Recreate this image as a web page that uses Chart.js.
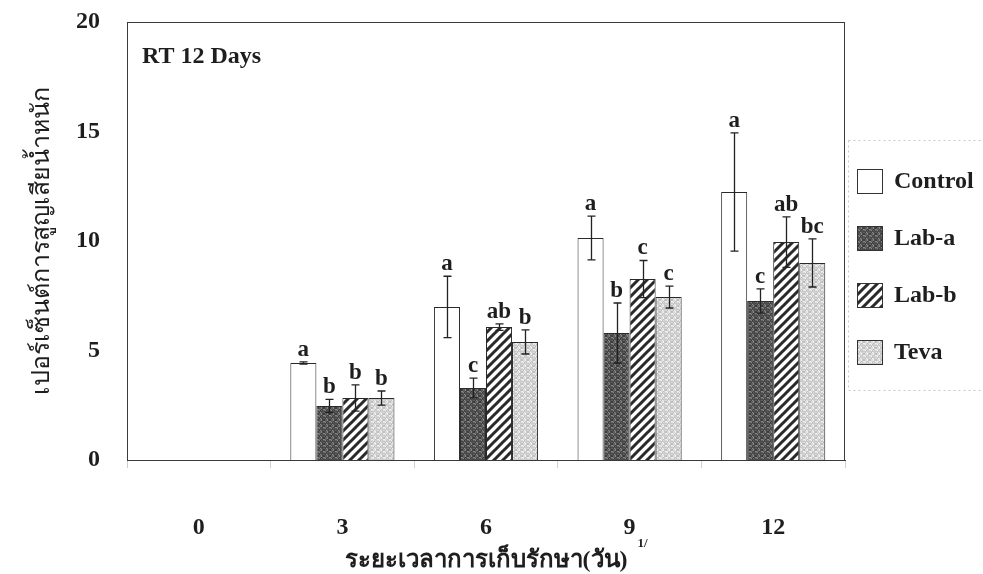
<!DOCTYPE html>
<html>
<head>
<meta charset="utf-8">
<script src="https://cdn.jsdelivr.net/npm/chart.js@4.4.1/dist/chart.umd.min.js"></script>
<style>
html, body { margin: 0; padding: 0; background: #fff; }
#wrap { width: 983px; height: 574px; position: relative; }
</style>
</head>
<body>
<div id="wrap"><canvas id="chart"></canvas></div>
<script>
// storage time (days)
var days = ["0", "3", "6", "9", "12"];
var seriesNames = ["Control", "Lab-a", "Lab-b", "Teva"];

// % weight loss, mean
var control = [null, 4.43, 6.99, 10.14, 12.24];
var labA = [null, 2.47, 3.29, 5.80, 7.26];
var labB = [null, 2.83, 6.07, 8.26, 9.95];
var teva = [null, 2.83, 5.39, 7.44, 9.00];

// +/- error
var controlErr = [null, 0.05, 1.40, 1.00, 2.70];
var labAErr = [null, 0.30, 0.45, 1.37, 0.55];
var labBErr = [null, 0.60, 0.15, 0.85, 1.15];
var tevaErr = [null, 0.32, 0.55, 0.50, 1.10];

// significance letters
var controlSig = ["", "a", "a", "a", "a"];
var labASig = ["", "b", "c", "b", "c"];
var labBSig = ["", "b", "ab", "c", "ab"];
var tevaSig = ["", "b", "b", "c", "bc"];

var yTicks = [0, 5, 10, 15, 20];

var SERIF = "'Liberation Serif', 'Times New Roman', serif";

// ---------------------------
// fill patterns
// ---------------------------
function stipple(base, shades) {
    var c = document.createElement("canvas");
    c.width = 6; c.height = 6;
    var ctx = c.getContext("2d");
    ctx.fillStyle = base;
    ctx.fillRect(0, 0, 6, 6);
    for (var i = 0; i < 6; i++) {
        for (var j = 0; j < 6; j++) {
            var k = (i * 7 + j * 11 + i * j) % 5;
            if (k < shades.length && shades[k]) {
                ctx.fillStyle = shades[k];
                ctx.fillRect(i, j, 1, 1);
            }
        }
    }
    return ctx.createPattern(c, "repeat");
}

function stripes() {
    var c = document.createElement("canvas");
    c.width = 9; c.height = 9;
    var ctx = c.getContext("2d");
    ctx.fillStyle = "#fff";
    ctx.fillRect(0, 0, 9, 9);
    ctx.strokeStyle = "#2a2a2a";
    ctx.lineWidth = 3;
    ctx.beginPath();
    ctx.moveTo(-2, 11); ctx.lineTo(11, -2);
    ctx.moveTo(-3, 3); ctx.lineTo(3, -3);
    ctx.moveTo(6, 12); ctx.lineTo(12, 6);
    ctx.stroke();
    return ctx.createPattern(c, "repeat");
}

var fillControl = "#ffffff";
var fillLabA = stipple("#5e5e5e", ["#3c3c3c", "#888888", null, "#4a4a4a"]);
var fillLabB = stripes();
var fillTeva = stipple("#dcdcdc", ["#bdbdbd", "#f2f2f2", null, "#cbcbcb"]);

// ---------------------------
// error bars, letters, frame, panel text
// ---------------------------
var marksPlugin = {
    id: "marks",
    afterDatasetsDraw: function(chart) {
        var ctx = chart.ctx;
        var a = chart.chartArea;
        var y = chart.scales.y;
        var x = chart.scales.x;
        ctx.save();

        ctx.strokeStyle = "#3a3a3a";
        ctx.lineWidth = 1;
        ctx.strokeRect(a.left + 0.5, a.top + 0.5, a.right - a.left - 1, a.bottom - a.top);

        chart.data.datasets.forEach(function(ds, di) {
            var meta = chart.getDatasetMeta(di);
            meta.data.forEach(function(bar, i) {
                var v = ds.data[i];
                if (v == null) return;
                var e = ds.errors[i];
                var top = y.getPixelForValue(v + e);
                var bot = y.getPixelForValue(v - e);
                var bx = Math.round(bar.x) + 0.5;
                ctx.strokeStyle = "#222";
                ctx.lineWidth = 1.3;
                ctx.beginPath();
                ctx.moveTo(bx, top); ctx.lineTo(bx, bot);
                ctx.moveTo(bx - 4, top); ctx.lineTo(bx + 4, top);
                ctx.moveTo(bx - 4, bot); ctx.lineTo(bx + 4, bot);
                ctx.stroke();

                ctx.fillStyle = "#1e1e1e";
                ctx.font = "bold 23px " + SERIF;
                ctx.textAlign = "center";
                ctx.textBaseline = "alphabetic";
                ctx.fillText(ds.sig[i], bar.x, top - 6);
            });
        });

        ctx.fillStyle = "#1e1e1e";
        ctx.font = "bold 24px " + SERIF;
        ctx.textAlign = "left";
        ctx.textBaseline = "alphabetic";
        ctx.fillText("RT 12 Days", a.left + 15, a.top + 41);

        // footnote mark next to day 9
        ctx.font = "bold 13px " + SERIF;
        ctx.fillText("1/", x.getPixelForValue(3) + 8, 547);

        ctx.restore();
    }
};

var legendPlugin = {
    id: "sideLegend",
    afterDraw: function(chart) {
        var ctx = chart.ctx;
        var a = chart.chartArea;
        ctx.save();
        ctx.strokeStyle = "#c8c8c8";
        ctx.lineWidth = 1;
        ctx.setLineDash([2, 3]);
        ctx.strokeRect(a.right + 3.5, 140.5, chart.width - a.right - 2, 250);
        ctx.setLineDash([]);
        chart.data.datasets.forEach(function(ds, i) {
            var cy = 181 + i * 57;
            var bx = a.right + 12;
            ctx.fillStyle = ds.backgroundColor;
            ctx.fillRect(bx, cy - 12, 26, 25);
            ctx.strokeStyle = "#333";
            ctx.strokeRect(bx + 0.5, cy - 11.5, 25, 24);
            ctx.fillStyle = "#1e1e1e";
            ctx.font = "bold 24px " + SERIF;
            ctx.textAlign = "left";
            ctx.textBaseline = "middle";
            ctx.fillText(ds.label, bx + 37, cy + 1);
        });
        ctx.restore();
    }
};

// ---------------------------
// chart
// ---------------------------
function makeSet(i, data, errors, sig, fill) {
    return {
        label: seriesNames[i],
        data: data,
        errors: errors,
        sig: sig,
        backgroundColor: fill,
        borderColor: "#2a2a2a",
        borderWidth: 1
    };
}

new Chart(document.getElementById("chart"), {
    type: "bar",
    data: {
        labels: days,
        datasets: [
            makeSet(0, control, controlErr, controlSig, fillControl),
            makeSet(1, labA, labAErr, labASig, fillLabA),
            makeSet(2, labB, labBErr, labBSig, fillLabB),
            makeSet(3, teva, tevaErr, tevaSig, fillTeva)
        ]
    },
    options: {
        responsive: true,
        maintainAspectRatio: false,
        animation: false,
        layout: { padding: { left: 0, right: 138, top: 22, bottom: 0 } },
        datasets: {
            bar: { categoryPercentage: 0.725, barPercentage: 1.0 }
        },
        plugins: {
            legend: { display: false },
            tooltip: { enabled: false }
        },
        scales: {
            x: {
                afterFit: function(s) {
                    s.height = 114;
                    s.paddingLeft = 0;
                    s.paddingRight = 0;
                },
                grid: {
                    display: true,
                    drawOnChartArea: false,
                    drawTicks: true,
                    tickLength: 8,
                    color: "#d0d0d0",
                    offset: true
                },
                border: { display: true, color: "#3a3a3a", width: 1 },
                ticks: {
                    color: "#1e1e1e",
                    font: { family: SERIF, size: 24, weight: "bold" },
                    padding: 45
                },
                title: {
                    display: true,
                    text: "ระยะเวลาการเก็บรักษา(วัน)",
                    color: "#1e1e1e",
                    font: { family: SERIF, size: 24, weight: "bold" },
                    padding: { top: 0, bottom: -1 }
                }
            },
            y: {
                min: yTicks[0],
                max: yTicks[yTicks.length - 1],
                afterFit: function(s) {
                    s.width = 127;
                    s.paddingTop = 0;
                    s.paddingBottom = 0;
                },
                ticks: {
                    stepSize: yTicks[1] - yTicks[0],
                    color: "#1e1e1e",
                    font: { family: SERIF, size: 24, weight: "bold" },
                    padding: 27
                },
                grid: { display: false, drawTicks: false },
                border: { display: true, color: "#3a3a3a", width: 1 },
                title: {
                    display: true,
                    text: "เปอร์เซ็นต์การสูญเสียน้ำหนัก",
                    color: "#1e1e1e",
                    font: { family: SERIF, size: 25, weight: "normal" },
                    padding: { top: 27, bottom: 0 }
                }
            }
        }
    },
    plugins: [marksPlugin, legendPlugin]
});
</script>
</body>
</html>
